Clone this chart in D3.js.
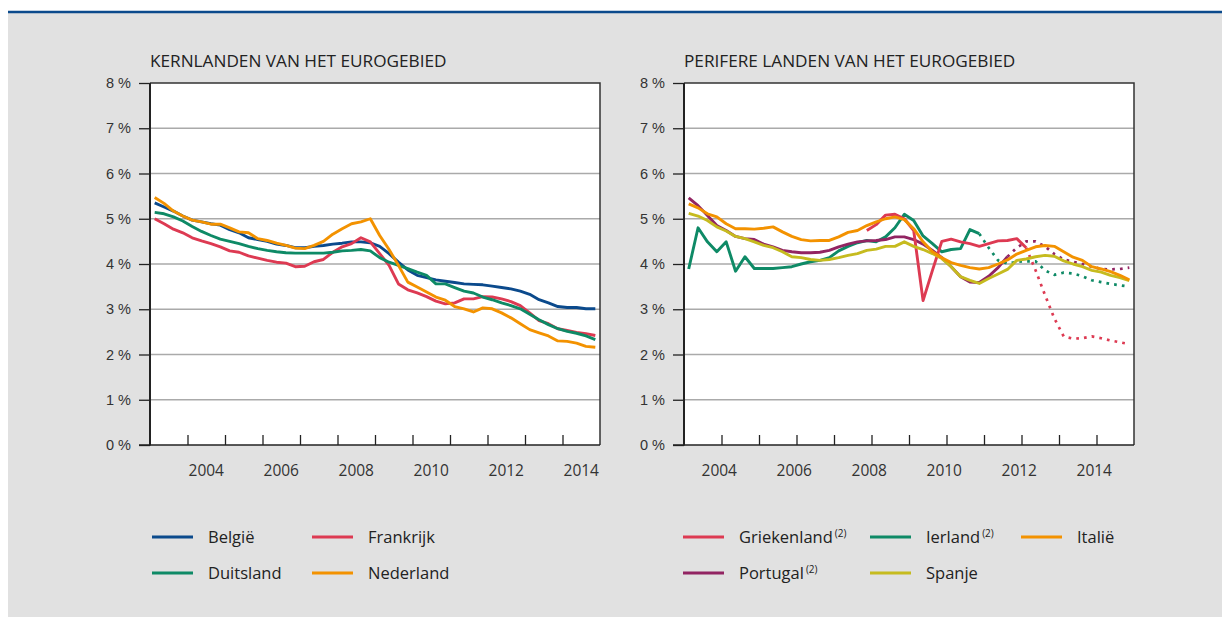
<!DOCTYPE html>
<html lang="nl">
<head>
<meta charset="UTF-8">
<title>Rente kern- en perifere landen</title>
<script src="https://d3js.org/d3.v7.min.js"></script>
<style>
body { margin: 0; background: #fff; }
svg { display: block; font-family: "Open Sans", "Noto Sans", sans-serif; }
.grid line { stroke: #aaaaaa; stroke-width: 1.5; }
.axis path { display: none; }
.axis line { stroke: #222; stroke-width: 1.3; }
.axis text { font-size: 14.5px; fill: #333; }
.xlabels text { font-size: 15.5px; fill: #333; }
.title { font-size: 17.2px; fill: #222; }
.legend text { font-size: 16.5px; fill: #222; }
.legend .sup { font-size: 10px; }
</style>
</head>
<body>
<script>
// kwartaalgegevens 2003K1 - 2014K4
var startYear = 2003;
var quarters = d3.range(48).map(function(i){ return (startYear + Math.floor(i/4)) + 'K' + (i%4+1); });

var belgie = [5.35,5.26,5.17,5.06,4.97,4.93,4.89,4.86,4.76,4.69, 4.58,4.54,4.50,4.44,4.41,4.36,4.36,4.39,4.41,4.44,
              4.46,4.49,4.49,4.47,4.39,4.23,4.04,3.87,3.75,3.70, 3.65,3.62,3.59,3.56,3.55,3.54,3.51,3.48,3.45,3.40,
              3.33,3.21,3.14,3.06,3.04,3.04,3.01,3.01];
var frankrijk = [5.00,4.89,4.77,4.69,4.58,4.51,4.45,4.38,4.29,4.26, 4.18,4.13,4.08,4.04,4.02,3.94,3.95,4.05,4.10,4.26,
                 4.38,4.45,4.58,4.49,4.23,3.97,3.56,3.43,3.36,3.28, 3.18,3.12,3.14,3.23,3.23,3.28,3.27,3.23,3.17,3.08,
                 2.92,2.75,2.68,2.57,2.53,2.49,2.46,2.42];
var duitsland = [5.14,5.11,5.04,4.95,4.83,4.72,4.63,4.55,4.50,4.45, 4.39,4.34,4.30,4.27,4.25,4.24,4.24,4.24,4.24,4.26,
                 4.29,4.30,4.32,4.29,4.14,4.04,3.97,3.90,3.82,3.75, 3.56,3.56,3.48,3.40,3.36,3.27,3.21,3.14,3.08,3.01,
                 2.89,2.77,2.66,2.57,2.51,2.47,2.41,2.33];
var nederland = [5.47,5.34,5.17,5.06,4.97,4.93,4.88,4.88,4.80,4.71, 4.69,4.56,4.52,4.46,4.41,4.35,4.34,4.41,4.50,4.66,
                 4.78,4.89,4.93,5.00,4.63,4.32,3.97,3.60,3.49,3.38, 3.27,3.20,3.06,3.01,2.94,3.03,3.01,2.92,2.81,2.68,
                 2.55,2.48,2.41,2.30,2.29,2.25,2.18,2.16];

var N = null;
var griekenland = [N,N,N,N,N,N,N,N,N,N, N,N,N,N,N,N,N,N,N,4.74,
                   4.87,5.08,5.10,5.00,4.74,3.19,3.86,4.50,4.55,4.49, 4.45,4.39,4.45,4.51,4.52,4.56,4.36,N,N,N,
                   N,N,N,N,N,N,N,N];
var griekenlandRaming = [N,N,N,N,N,N,N,N,N,N, N,N,N,N,N,N,N,N,N,N,
                         N,N,N,N,N,N,N,N,N,N, N,N,N,N,N,N,4.36,3.86,3.32,2.80,
                         2.40,2.35,2.36,2.40,2.36,2.31,2.27,2.23];
var ierland = [3.89,4.80,4.49,4.27,4.49,3.84,4.16,3.90,3.90,3.90, 3.92,3.94,4.00,4.05,4.08,4.14,4.29,4.39,4.47,4.52,
               4.49,4.60,4.80,5.10,4.96,4.62,4.45,4.27,4.32,4.34, 4.76,4.67,N,N,N,N,N,N,N,N,
               N,N,N,N,N,N,N,N];
var ierlandRaming = [N,N,N,N,N,N,N,N,N,N, N,N,N,N,N,N,N,N,N,N,
                     N,N,N,N,N,N,N,N,N,N, N,4.67,4.36,4.08,4.01,4.05,4.06,4.06,3.86,3.76,
                     3.81,3.79,3.73,3.64,3.60,3.56,3.53,3.50];
var italie = [5.33,5.24,5.11,5.04,4.89,4.78,4.78,4.77,4.79,4.82, 4.71,4.61,4.54,4.51,4.52,4.52,4.60,4.70,4.74,4.85,
              4.93,5.00,5.04,4.98,4.78,4.49,4.27,4.14,4.03,3.97, 3.92,3.89,3.92,4.00,4.09,4.22,4.30,4.38,4.41,4.39,
              4.27,4.15,4.08,3.94,3.89,3.83,3.75,3.65];
var portugal = [5.46,5.29,5.07,4.85,4.74,4.61,4.56,4.54,4.44,4.38, 4.30,4.27,4.25,4.25,4.26,4.30,4.38,4.44,4.49,4.51,
                4.52,4.54,4.60,4.60,4.54,4.44,4.30,4.14,3.94,3.72, 3.60,3.59,3.73,3.92,4.16,N,N,N,N,N,
                N,N,N,N,N,N,N,N];
var portugalRaming = [N,N,N,N,N,N,N,N,N,N, N,N,N,N,N,N,N,N,N,N,
                      N,N,N,N,N,N,N,N,N,N, N,N,N,N,4.16,4.36,4.50,4.50,4.39,4.22,
                      4.10,4.05,4.00,3.94,3.89,3.88,3.89,3.92];
var spanje = [5.12,5.06,4.96,4.82,4.73,4.61,4.56,4.49,4.41,4.36, 4.27,4.16,4.14,4.10,4.08,4.10,4.14,4.19,4.23,4.30,
              4.33,4.39,4.39,4.49,4.39,4.32,4.23,4.12,3.94,3.72, 3.64,3.57,3.68,3.78,3.88,4.08,4.11,4.16,4.19,4.17,
              4.07,4.00,3.94,3.86,3.82,3.75,3.70,3.63];

var yTicks = [0,1,2,3,4,5,6,7,8];
var yearLabels = [2004,2006,2008,2010,2012,2014];

var kleur = {blauw:'#0b4a8c', rood:'#dd3a52', groen:'#0e8a66', oranje:'#f39200', paars:'#922462', geel:'#c6bb1f'};

var width = 1222, height = 617;
var svg = d3.select('body').append('svg').attr('width', width).attr('height', height);

// achtergrond
svg.append('rect').attr('x', 8).attr('y', 12).attr('width', width - 8).attr('height', height - 12).attr('fill', '#e1e1e1');
svg.append('line').attr('x1', 8).attr('x2', width).attr('y1', 12).attr('y2', 12)
   .attr('stroke', '#0b4a8c').attr('stroke-width', 2.5);

var plotTop = 83, plotBottom = 445;
var yScale = d3.scaleLinear().domain([0, 8]).range([plotBottom, plotTop]);

function tijd(i){ return startYear + (i + 0.5) / 4; }

// labelShift: links staan de jaartallen midden in het jaar, rechts bij het begin ervan
function panel(x0, titel, reeksen, labelShift){
  var xScale = d3.scaleLinear().domain([2003, 2015]).range([x0, x0 + 450]);
  var g = svg.append('g');

  g.append('rect').attr('x', x0).attr('y', plotTop).attr('width', 450).attr('height', plotBottom - plotTop).attr('fill', '#fff');

  g.append('g').attr('class', 'grid')
   .selectAll('line').data(yTicks.slice(1, -1)).enter().append('line')
   .attr('x1', x0).attr('x2', x0 + 450)
   .attr('y1', function(d){ return yScale(d); }).attr('y2', function(d){ return yScale(d); });

  // lijnen
  reeksen.forEach(function(r){
    var line = d3.line()
      .defined(function(d){ return d != null; })
      .x(function(d, i){ return xScale(tijd(i)); })
      .y(function(d){ return yScale(d); });
    g.append('path').datum(r.data)
     .attr('fill', 'none').attr('stroke', r.kleur)
     .attr('stroke-width', r.raming ? 2.7 : 2.9)
     .attr('stroke-linejoin', 'round')
     .attr('stroke-dasharray', r.raming ? '2.7,5.1' : null)
     .attr('d', line);
  });

  // kader boven en rechts
  g.append('path').attr('d', 'M' + x0 + ',' + plotTop + 'H' + (x0 + 450) + 'V' + plotBottom)
   .attr('fill', 'none').attr('stroke', '#333').attr('stroke-width', 1.5);

  // y-as
  var yAxis = d3.axisLeft(yScale).tickValues(yTicks).tickSize(11).tickPadding(8)
                .tickFormat(function(d){ return d + ' %'; });
  g.append('g').attr('class', 'axis').attr('transform', 'translate(' + x0 + ',0)').call(yAxis);
  g.append('line').attr('x1', x0).attr('x2', x0).attr('y1', plotTop).attr('y2', plotBottom + 0.5)
   .attr('stroke', '#222').attr('stroke-width', 2);

  // x-as: binnenwaartse streepjes op de jaargrenzen
  var xAxis = d3.axisBottom(xScale).tickValues(d3.range(2004, 2015)).tickSize(-10).tickFormat('');
  g.append('g').attr('class', 'axis').attr('transform', 'translate(0,' + plotBottom + ')').call(xAxis);
  g.append('line').attr('x1', x0 - 11).attr('x2', x0 + 450).attr('y1', plotBottom).attr('y2', plotBottom)
   .attr('stroke', '#222').attr('stroke-width', 1.5);
  g.append('g').attr('class', 'xlabels').selectAll('text').data(yearLabels).enter().append('text')
   .attr('x', function(d){ return xScale(d + labelShift); }).attr('y', 476)
   .attr('text-anchor', 'middle').text(function(d){ return d; });

  g.append('text').attr('class', 'title').attr('x', x0).attr('y', 67).text(titel);
}

panel(150, 'KERNLANDEN VAN HET EUROGEBIED', [
  {data: belgie, kleur: kleur.blauw},
  {data: frankrijk, kleur: kleur.rood},
  {data: duitsland, kleur: kleur.groen},
  {data: nederland, kleur: kleur.oranje}
], 0.5);

panel(684, 'PERIFERE LANDEN VAN HET EUROGEBIED', [
  {data: ierland, kleur: kleur.groen},
  {data: ierlandRaming, kleur: kleur.groen, raming: true},
  {data: portugal, kleur: kleur.paars},
  {data: portugalRaming, kleur: kleur.paars, raming: true},
  {data: griekenland, kleur: kleur.rood},
  {data: griekenlandRaming, kleur: kleur.rood, raming: true},
  {data: spanje, kleur: kleur.geel},
  {data: italie, kleur: kleur.oranje}
], -0.06);

// legenda
var legenda = [
  {naam: 'België', kleur: kleur.blauw, x: 152, y: 537},
  {naam: 'Frankrijk', kleur: kleur.rood, x: 312, y: 537},
  {naam: 'Duitsland', kleur: kleur.groen, x: 152, y: 573},
  {naam: 'Nederland', kleur: kleur.oranje, x: 312, y: 573},
  {naam: 'Griekenland', noot: '(2)', kleur: kleur.rood, x: 683, y: 537},
  {naam: 'Ierland', noot: '(2)', kleur: kleur.groen, x: 870, y: 537},
  {naam: 'Italië', kleur: kleur.oranje, x: 1021, y: 537},
  {naam: 'Portugal', noot: '(2)', kleur: kleur.paars, x: 683, y: 573},
  {naam: 'Spanje', kleur: kleur.geel, x: 870, y: 573}
];
var lg = svg.append('g').attr('class', 'legend').selectAll('g').data(legenda).enter().append('g')
  .attr('transform', function(d){ return 'translate(' + d.x + ',' + d.y + ')'; });
lg.append('line').attr('x1', 0).attr('x2', 41).attr('y1', 0).attr('y2', 0)
  .attr('stroke', function(d){ return d.kleur; }).attr('stroke-width', 3);
var lt = lg.append('text').attr('x', 56).attr('y', 6);
lt.append('tspan').text(function(d){ return d.naam; });
lt.filter(function(d){ return d.noot; }).append('tspan').attr('class', 'sup')
  .attr('dx', 2).attr('dy', -6).text(function(d){ return d.noot; });
</script>
</body>
</html>
